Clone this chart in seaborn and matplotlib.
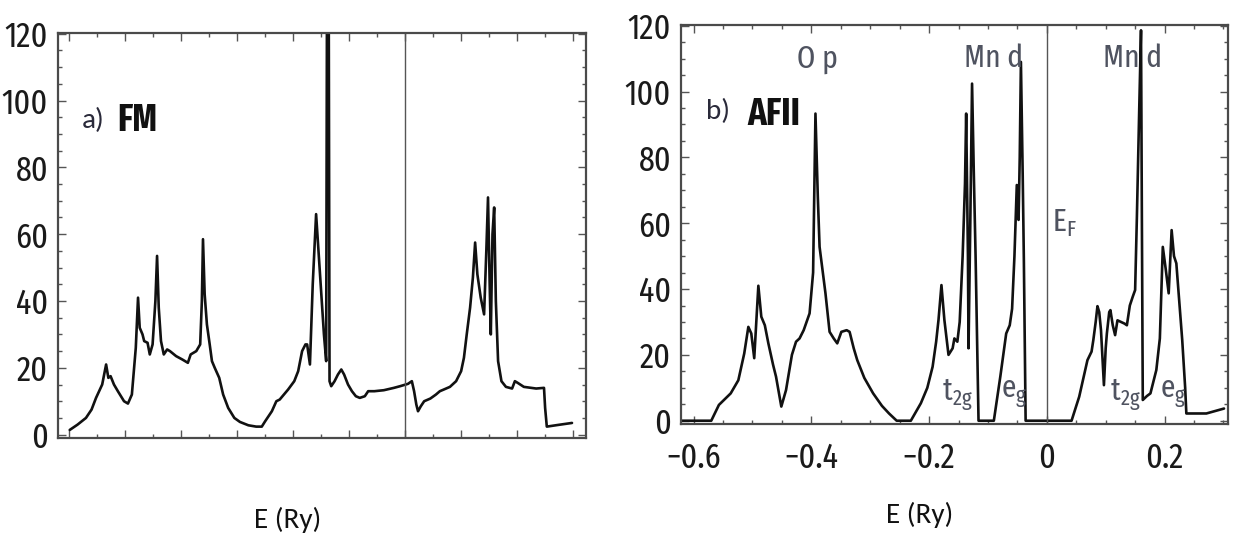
import numpy as np
import pandas as pd
import matplotlib
matplotlib.use("Agg")
import matplotlib.pyplot as plt
import seaborn as sns
from matplotlib import font_manager
from matplotlib.ticker import MultipleLocator, NullFormatter, FuncFormatter

# ---------------- data ----------------
fm_energy = [-0.599, -0.585, -0.570, -0.560, -0.552, -0.541, -0.534, -0.530, -0.526, -0.520,
             -0.513, -0.502, -0.495, -0.488, -0.481, -0.477, -0.474, -0.469, -0.466, -0.460,
             -0.456, -0.451, -0.446, -0.443, -0.440, -0.436, -0.431, -0.425, -0.420, -0.409,
             -0.398, -0.388, -0.383, -0.373, -0.366, -0.363, -0.361, -0.358, -0.354, -0.349,
             -0.345, -0.340, -0.332, -0.325, -0.316, -0.305, -0.295, -0.280, -0.266, -0.256,
             -0.250, -0.238, -0.230, -0.224, -0.209, -0.198, -0.191, -0.184, -0.178, -0.175,
             -0.170, -0.165, -0.159, -0.152, -0.145, -0.141, -0.139, -0.137, -0.135, -0.132,
             -0.126, -0.120, -0.114, -0.109, -0.102, -0.095, -0.088, -0.081, -0.072, -0.066,
             -0.055, -0.038, -0.020, -0.009, 0.005, 0.012, 0.016, 0.020, 0.023, 0.028,
             0.034, 0.045, 0.055, 0.062, 0.069, 0.080, 0.091, 0.100, 0.105, 0.110,
             0.116, 0.121, 0.125, 0.129, 0.135, 0.141, 0.145, 0.148, 0.151, 0.153,
             0.156, 0.159, 0.162, 0.166, 0.172, 0.180, 0.191, 0.196, 0.201, 0.212,
             0.234, 0.248, 0.250, 0.253, 0.273, 0.298]
fm_dos = [1.4, 3.0, 5.0, 7.5, 11, 15, 21, 17, 17.5, 15,
          13, 10, 9.3, 12, 26, 41, 32, 30, 28, 27.5,
          24, 27, 40, 53.5, 38, 28, 24, 25.5, 25, 23.5,
          22.5, 21.5, 24, 25, 27, 40, 58.5, 42, 33, 27,
          22, 20, 17, 12, 8, 5, 3.8, 2.8, 2.4, 2.4,
          4, 7, 10, 10.5, 13.5, 16, 19, 25, 27, 27,
          21, 45, 66, 48, 30, 22, 175, 175, 16, 14.5,
          16, 18, 19.5, 18, 15, 13, 11.5, 11, 11.5, 13,
          13, 13.3, 14, 14.5, 15.2, 16, 13, 9, 7, 8.5,
          10, 10.8, 12, 13, 13.5, 14.3, 16, 19, 23, 30,
          38, 47, 57.5, 48, 41, 36, 55, 71, 45, 30,
          60, 68, 40, 22, 16, 14.3, 13.8, 16, 15.5, 14.3,
          13.8, 14, 8, 2.4, 2.9, 3.5]

afm_energy = [-0.622, -0.570, -0.557, -0.537, -0.524, -0.514, -0.507, -0.502, -0.497, -0.490,
              -0.485, -0.479, -0.473, -0.465, -0.460, -0.451, -0.443, -0.433, -0.426, -0.420,
              -0.413, -0.403, -0.397, -0.393, -0.389, -0.386, -0.376, -0.369, -0.362, -0.356,
              -0.349, -0.340, -0.335, -0.328, -0.322, -0.310, -0.295, -0.280, -0.268, -0.255,
              -0.231, -0.214, -0.203, -0.194, -0.188, -0.184, -0.179, -0.174, -0.167, -0.160,
              -0.157, -0.152, -0.148, -0.143, -0.139, -0.137, -0.134, -0.133, -0.130, -0.127,
              -0.124, -0.121, -0.116, -0.090, -0.079, -0.069, -0.063, -0.059, -0.055, -0.051,
              -0.048, -0.046, -0.044, -0.041, -0.039, -0.036, 0.042, 0.055, 0.069, 0.076,
              0.079, 0.083, 0.086, 0.089, 0.092, 0.097, 0.100, 0.102, 0.106, 0.108,
              0.112, 0.116, 0.120, 0.126, 0.132, 0.136, 0.141, 0.146, 0.150, 0.153,
              0.157, 0.160, 0.1615, 0.163, 0.170, 0.176, 0.186, 0.192, 0.197, 0.202,
              0.207, 0.212, 0.216, 0.220, 0.230, 0.235, 0.237, 0.271, 0.301]
afm_dos = [0, 0, 4.8, 8.3, 12.3, 20.4, 28.5, 26.5, 19, 41,
           31.6, 29, 23.5, 17, 13.4, 4.3, 9.3, 20, 24, 25,
           27.5, 32.6, 45, 93.3, 68, 52.8, 38.7, 27, 25, 23.5,
           27, 27.5, 27, 22, 18.4, 13, 8.3, 4.5, 2.2, 0,
           0, 5.3, 10, 16.4, 24, 30.6, 41.2, 30.6, 20, 22,
           25, 24, 30, 50, 72, 93.3, 50, 22, 60, 102.4,
           75, 50, 0, 0, 13.4, 26.5, 29, 34, 50, 71.6,
           61, 80, 109, 75, 48.8, 0, 0, 7.3, 18.4, 21,
           24.5, 30, 34.8, 33, 27.5, 10.8, 22, 26.5, 33, 33.6,
           29, 26, 30.5, 30, 29.5, 29, 35, 37.7, 39.7, 62,
           95, 118.6, 60, 6.3, 7.5, 8.3, 15.4, 25, 52.8, 46,
           38.7, 57.9, 50, 47.8, 24.5, 10, 2.2, 2.2, 3.7]

y_ticks = [0, 20, 40, 60, 80, 100, 120]
x_ticks_b = [-0.6, -0.4, -0.2, 0.0, 0.2]
fermi_energy = 0.0

# ---------------- fonts ----------------
sns.set_style("ticks")
names = {f.name for f in font_manager.fontManager.ttflist}


def pick(cands):
    for c in cands:
        if c in names:
            return c
    return "Liberation Sans"


cond = pick(["Fira Sans Extra Condensed", "Roboto Condensed", "Archivo Narrow", "Liberation Sans"])
body = pick(["Carlito", "Lato", "Open Sans"])
plt.rcParams["font.family"] = [cond, "DejaVu Sans"]
plt.rcParams["axes.unicode_minus"] = True

fig = plt.figure(figsize=(12.41, 5.37), dpi=100)
ax1 = fig.add_axes([0.0467, 0.1844, 0.4255, 0.754])
ax2 = fig.add_axes([0.5487, 0.2104, 0.4408, 0.743])

df_fm = pd.DataFrame({"E": fm_energy, "DOS": fm_dos})
df_af = pd.DataFrame({"E": afm_energy, "DOS": afm_dos})

sns.lineplot(data=df_fm, x="E", y="DOS", ax=ax1, color="#111111", lw=1.9,
             estimator=None, sort=False)
sns.lineplot(data=df_af, x="E", y="DOS", ax=ax2, color="#111111", lw=1.9,
             estimator=None, sort=False)

tick_size = 25
for ax in (ax1, ax2):
    ax.axvline(fermi_energy, color="#555555", lw=1.0)
    ax.set_ylim(-1, 120.2)
    ax.set_yticks(y_ticks)
    ax.yaxis.set_minor_locator(MultipleLocator(5))
    ax.xaxis.set_minor_locator(MultipleLocator(0.05))
    ax.tick_params(which="both", direction="in", top=True, right=True,
                   color="#555555", width=1.0, labelcolor="#1a1a1a")
    ax.tick_params(which="major", length=6, labelsize=tick_size)
    ax.tick_params(axis="y", which="major", pad=7)
    ax.tick_params(axis="x", which="major", pad=12)
    ax.tick_params(which="minor", length=3)
    for s in ax.spines.values():
        s.set_color("#4a4a4a")
        s.set_linewidth(1.6)
    ax.set_xlabel("")
    ax.set_ylabel("")

ax1.set_xlim(-0.62, 0.323)
ax1.xaxis.set_major_locator(MultipleLocator(0.1))
ax1.xaxis.set_major_formatter(NullFormatter())

ax2.set_xlim(-0.6215, 0.3077)
ax2.set_xticks(x_ticks_b)
ax2.xaxis.set_major_formatter(FuncFormatter(
    lambda v, p: "0" if abs(v) < 1e-9 else f"{v:.1f}".replace("-", "\u2212")))

# panel labels
ax1.text(-0.578, 94, "a)", fontsize=21, color="#2a2a3a", family=[body, "DejaVu Sans"], va="center")
ax1.text(-0.515, 94, "FM", fontsize=27, fontweight="bold", color="#111111", va="center")
ax2.text(-0.579, 94, "b)", fontsize=21, color="#2a2a3a", family=[body, "DejaVu Sans"], va="center")
ax2.text(-0.508, 93, "AFII", fontsize=27, fontweight="bold", color="#111111", va="center")

grey = "#4f5360"
ax2.text(-0.389, 110, "O p", fontsize=23, color=grey, ha="center", va="center")
ax2.text(-0.090, 110, "Mn d", fontsize=23, color=grey, ha="center", va="center")
ax2.text(0.146, 110, "Mn d", fontsize=23, color=grey, ha="center", va="center")
ax2.text(0.008, 60, "E$_\\mathregular{F}$", fontsize=23, color=grey, ha="left", va="center")
ax2.text(-0.178, 8, "t$_\\mathregular{2g}$", fontsize=23, color=grey, ha="left", va="center")
ax2.text(-0.077, 8, "e$_\\mathregular{g}$", fontsize=23, color=grey, ha="left", va="center")
ax2.text(0.108, 8, "t$_\\mathregular{2g}$", fontsize=23, color=grey, ha="left", va="center")
ax2.text(0.193, 8, "e$_\\mathregular{g}$", fontsize=23, color=grey, ha="left", va="center")

fig.text(288 / 1241, 1 - 520 / 537, "E (Ry)", fontsize=21, family=[body, "DejaVu Sans"],
         ha="center", va="center", color="#111111")
fig.text(920 / 1241, 1 - 515 / 537, "E (Ry)", fontsize=21, family=[body, "DejaVu Sans"],
         ha="center", va="center", color="#111111")

fig.savefig("out.png", dpi=100)
